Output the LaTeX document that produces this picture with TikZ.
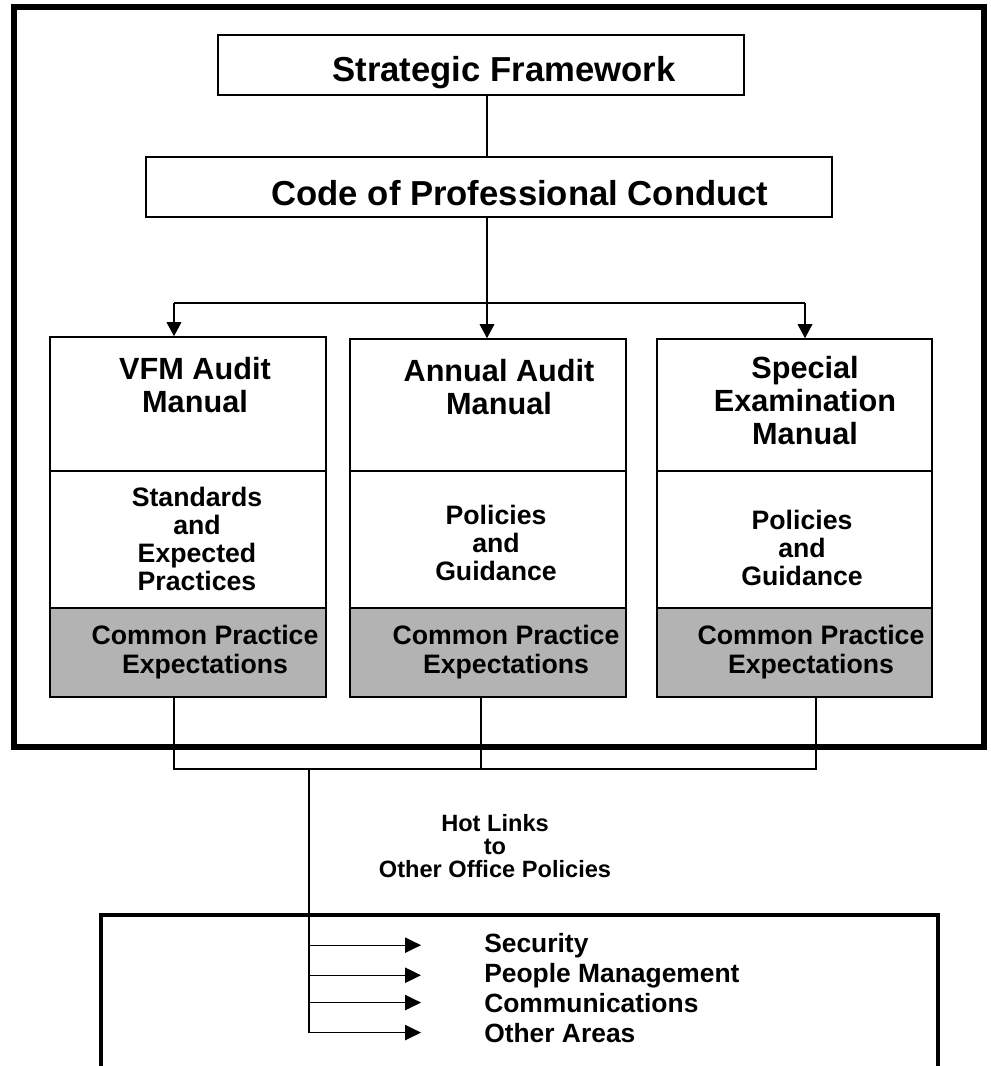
\documentclass[tikz,border=0pt]{standalone}
\usepackage{fontspec}
\setmainfont{Liberation Sans}
\usetikzlibrary{arrows.meta}
\definecolor{cpegray}{HTML}{B3B3B3}
\tikzset{
  link/.style={line width=0.9pt},
  arr/.style={link, -{Triangle[length=10.5pt,width=11pt]}},
  topbox/.style={draw, line width=1.2pt, minimum height=45pt, inner sep=0pt},
  part/.style={draw, line width=1.2pt, minimum width=207pt, inner sep=0pt},
  graypart/.style={part, fill=cpegray},
  headtext/.style={anchor=base, inner sep=0pt, font=\fontsize{26}{30}\selectfont\bfseries},
  titletext/.style={anchor=base, align=center, inner sep=0pt, font=\fontsize{23}{24.75}\selectfont\bfseries},
  bodytext/.style={anchor=base, align=center, inner sep=0pt, font=\fontsize{20}{21}\selectfont\bfseries},
  cpetext/.style={anchor=base, align=center, inner sep=0pt, font=\fontsize{20}{21.75}\selectfont\bfseries},
  hottext/.style={anchor=base, align=center, inner sep=0pt, font=\fontsize{17.7}{17.25}\selectfont\bfseries},
  areatext/.style={anchor=base west, inner sep=0pt, font=\fontsize{19.8}{22}\selectfont\bfseries}
}
\begin{document}
\begin{tikzpicture}[x=0.75pt,y=-0.75pt]
  \useasboundingbox (0,0) rectangle (990,1066);
  % frames
  \draw[line width=4.5pt] (14,7) rectangle (984,747);
  \draw[line width=3pt] (101,915) rectangle (938,1070);

  % top of the hierarchy
  \node[topbox, minimum width=394.5pt] (sf) at (481,65) {};
  \node[headtext] (sfText) at (504,82) {Strategic Framework};
  \node[topbox, minimum width=514.5pt] (cpc) at (489,187) {};
  \node[headtext] (cpcText) at (520,205) {Code of Professional Conduct};

  % manuals
  \node[part, minimum height=100.5pt] (vfmT) at (188,404) {};
  \node[part, minimum height=102.75pt] (vfmM) at (188,539.5) {};
  \node[graypart, minimum height=66.75pt] (vfmG) at (188,652.5) {};
  \node[part, minimum height=99pt] (annT) at (488,405) {};
  \node[part, minimum height=102.75pt] (annM) at (488,539.5) {};
  \node[graypart, minimum height=66.75pt] (annG) at (488,652.5) {};
  \node[part, minimum height=99pt, minimum width=206.25pt] (spcT) at (794.5,405) {};
  \node[part, minimum height=102.75pt, minimum width=206.25pt] (spcM) at (794.5,539.5) {};
  \node[graypart, minimum height=66.75pt, minimum width=206.25pt] (spcG) at (794.5,652.5) {};

  % text sits on the baseline of its last line
  \node[titletext] (vfmTitle) at (195,412) {VFM Audit\\Manual};
  \node[titletext] (annTitle) at (499,414) {Annual Audit\\Manual};
  \node[titletext] (spcTitle) at (805,444) {Special\\Examination\\Manual};
  \node[bodytext] (vfmBody) at (197,590) {Standards\\and\\Expected\\Practices};
  \node[bodytext] (annBody) at (496,580) {Policies\\and\\Guidance};
  \node[bodytext] (spcBody) at (802,585) {Policies\\and\\Guidance};
  \node[cpetext] (vfmCpe) at (205,673) {Common Practice\\Expectations};
  \node[cpetext] (annCpe) at (506,673) {Common Practice\\Expectations};
  \node[cpetext] (spcCpe) at (811,673) {Common Practice\\Expectations};

  % links down from the code
  \coordinate (spine) at (487,303);
  \coordinate (forkL) at (174,303);
  \coordinate (forkR) at (805,303);
  \draw[link] (sf.south -| spine) -- (cpc.north -| spine);
  \draw[arr] (cpc.south -| spine) -- (spine |- annT.north);
  \draw[link] (forkL) -- (forkR);
  \draw[arr] (forkL) -- (forkL |- vfmT.north);
  \draw[arr] (forkR) -- (forkR |- spcT.north);

  % hot links
  \coordinate (tieL) at (174,769);
  \coordinate (tieM) at (481,769);
  \coordinate (tieR) at (816,769);
  \coordinate (trunk) at (309,769);
  \draw[link] (vfmG.south -| tieL) -- (tieL) -- (tieR) -- (spcG.south -| tieR);
  \draw[link] (annG.south -| tieM) -- (tieM);
  \node[hottext] (hot) at (495,877) {Hot Links\\to\\Other Office Policies};

  \node[areatext] (sec) at (484,952) {Security};
  \node[areatext] (ppl) at (484,982) {People Management};
  \node[areatext] (com) at (484,1012) {Communications};
  \node[areatext] (oth) at (484,1042) {Other Areas};
  \draw[link] (trunk) -- (trunk |- oth.west);
  \foreach \area in {sec,ppl,com,oth}
    \draw[link, -{Triangle[length=12pt,width=11.5pt]}] (trunk |- \area.west) -- ([xshift=-47.25pt]\area.west);
\end{tikzpicture}
\end{document}
